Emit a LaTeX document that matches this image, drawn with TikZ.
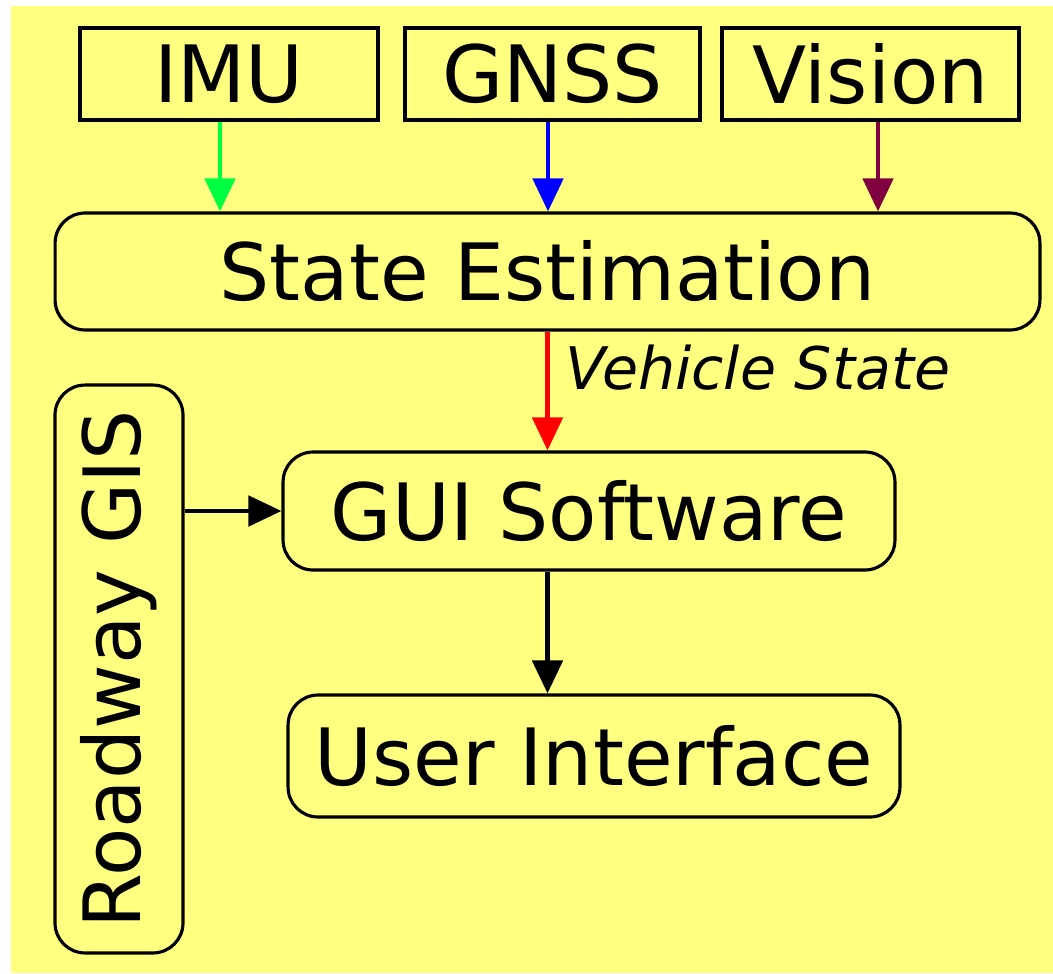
\documentclass[tikz,border=0pt]{standalone}
\usepackage{fontspec}
\setmainfont{DejaVu Sans}
\usetikzlibrary{arrows.meta}
\definecolor{bgyellow}{RGB}{255,255,128}
\definecolor{imugreen}{RGB}{0,255,64}
\definecolor{gnssblue}{RGB}{0,0,255}
\definecolor{visionred}{RGB}{128,0,64}
\begin{document}
\begin{tikzpicture}[x=0.02cm,y=-0.02cm,
  sensor/.style={draw,line width=2pt,minimum height=1.84cm,inner sep=0pt,
    font=\fontsize{45}{54}\selectfont},
  block/.style={draw,line width=1.8pt,rounded corners=0.6cm,inner sep=0pt,
    font=\fontsize{45}{54}\selectfont},
  flow/.style={line width=2.8pt,-{Triangle[width=0.6cm,length=0.66cm]}}]
\useasboundingbox (0,0) rectangle (1053,973);
\fill[bgyellow] (11,6) rectangle (1053,973);

\node[sensor,minimum width=5.96cm] (imu) at (229,74) {IMU};
\node[sensor,minimum width=5.9cm] (gnss) at (552.5,74) {GNSS};
\node[sensor,minimum width=5.94cm] (vision) at (870.5,74) {Vision};

\node[block,minimum width=19.7cm,minimum height=2.34cm] (est) at (547.5,271.5) {State Estimation};
\node[block,minimum width=12.24cm,minimum height=2.36cm] (gui) at (589,511) {GUI Software};
\node[block,minimum width=12.24cm,minimum height=2.44cm] (ui) at (594,756) {User Interface};
\node[block,minimum width=11.36cm,minimum height=2.56cm,rotate=90] (gis) at (119,669) {Roadway GIS};

\draw[flow,imugreen] ([xshift=-0.18cm]imu.south) -- ([xshift=-0.18cm]imu.south |- est.north);
\draw[flow,gnssblue] ([xshift=-0.09cm]gnss.south) -- ([xshift=-0.09cm]gnss.south |- est.north);
\draw[flow,visionred] ([xshift=0.15cm]vision.south) -- ([xshift=0.15cm]vision.south |- est.north);
\draw[flow,red] (est.south) -- (est.south |- gui.north);
\draw[flow,black] (gis.south |- gui.west) -- (gui.west);
\draw[flow,black] (gui.south -| est.south) -- (ui.north -| est.south);

\node[anchor=base west,inner sep=0pt,font=\fontsize{33.4}{40}\selectfont\itshape] (vstate) at (565,389) {Vehicle State};
\end{tikzpicture}
\end{document}
